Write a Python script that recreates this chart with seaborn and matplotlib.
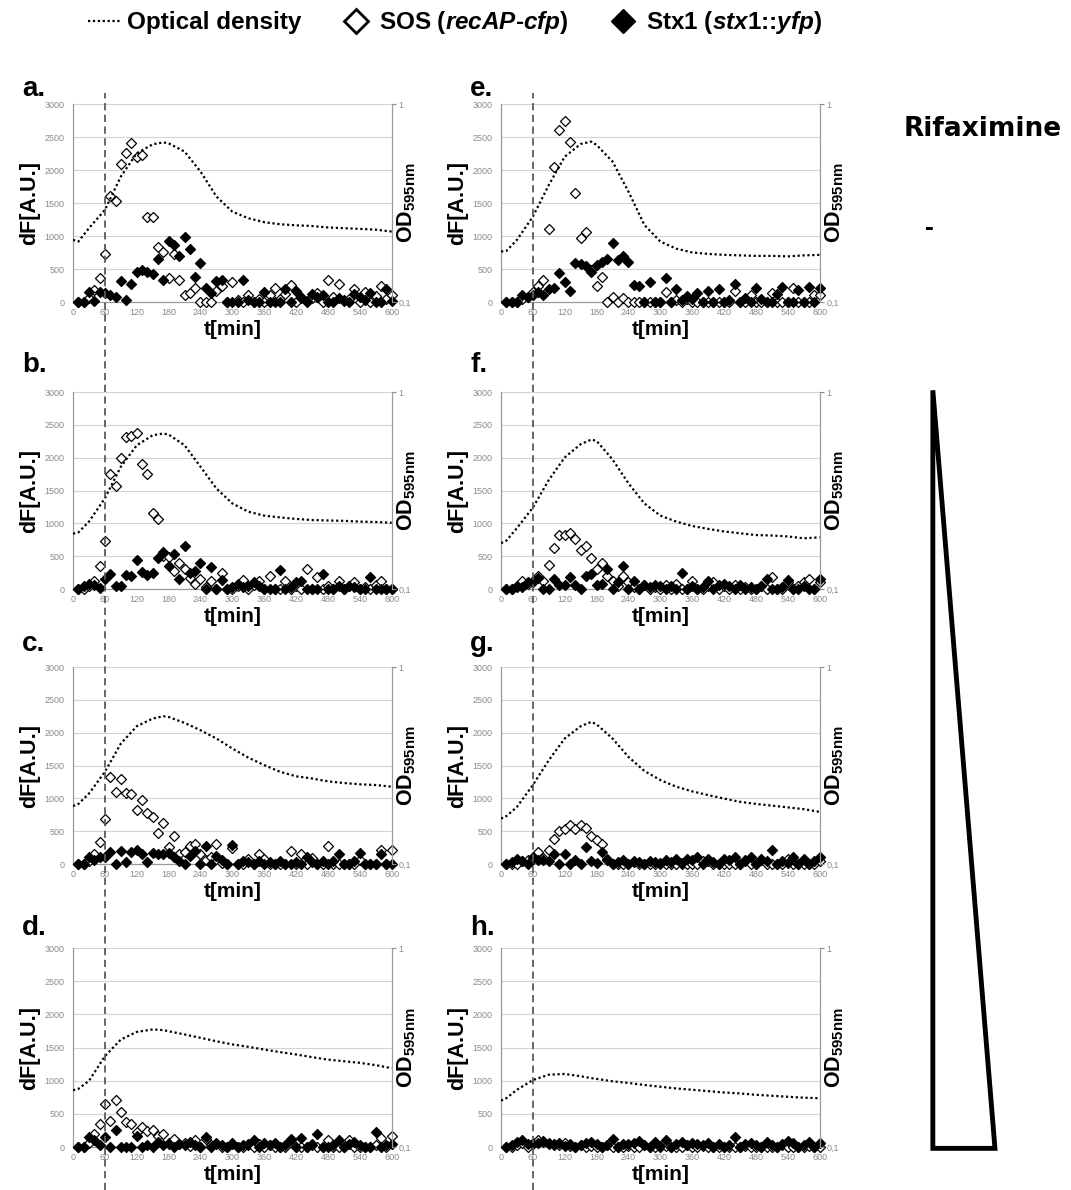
import matplotlib
matplotlib.use("Agg")
import matplotlib.pyplot as plt
from matplotlib.lines import Line2D
from matplotlib.patches import Polygon
from matplotlib.transforms import blended_transform_factory
import pandas as pd
import seaborn as sns

# sampling times of the fluorescence readings (min)
t = [10, 20, 30, 40, 50, 60, 70, 80, 90, 100, 110, 120, 130, 140, 150, 160, 170, 180, 190, 200,
     210, 220, 230, 240, 250, 260, 270, 280, 290, 300, 310, 320, 330, 340, 350, 360, 370, 380, 390, 400,
     410, 420, 430, 440, 450, 460, 470, 480, 490, 500, 510, 520, 530, 540, 550, 560, 570, 580, 590, 600]
# times at which the OD curve was read
od_t = [0, 10, 30, 60, 90, 120, 150, 170, 180, 210, 240, 270, 300, 330, 360, 390, 420, 450, 480, 510, 540, 570, 600]
induction_t = 60

# --- a ---
sos_a = [0, 0, 60, 180, 370, 720, 1610, 1530, 2090, 2260, 2410, 2200, 2220, 1290, 1290, 840, 760, 370, 720, 330,
         100, 130, 210, 0, 0, 0, 160, 250, 0, 300, 30, 0, 100, 0, 40, 0, 100, 210, 50, 120,
         260, 0, 80, 0, 60, 130, 0, 340, 80, 270, 20, 50, 190, 0, 150, 0, 90, 240, 50, 100]
stx_a = [0, 0, 150, 20, 150, 130, 100, 80, 320, 30, 280, 460, 490, 460, 420, 650, 340, 920, 860, 700,
         990, 800, 380, 590, 220, 140, 320, 330, 0, 0, 0, 340, 30, 0, 0, 150, 0, 0, 0, 200,
         0, 170, 60, 20, 120, 80, 100, 0, 0, 60, 30, 0, 120, 80, 30, 140, 0, 0, 190, 20]
od_a = [0.206, 0.202, 0.236, 0.292, 0.430, 0.564, 0.626, 0.640, 0.633, 0.575, 0.456, 0.341, 0.286, 0.265,
        0.253, 0.247, 0.244, 0.242, 0.238, 0.236, 0.234, 0.232, 0.227]

# --- b ---
sos_b = [0, 0, 50, 130, 355, 735, 1760, 1570, 2000, 2310, 2330, 2380, 1900, 1760, 1165, 1060, 500, 490, 270, 395,
         310, 170, 70, 150, 30, 130, 0, 240, 0, 0, 50, 140, 0, 60, 120, 0, 200, 0, 0, 130,
         0, 40, 0, 300, 0, 180, 0, 50, 0, 130, 0, 40, 110, 0, 30, 0, 60, 130, 0, 0]
stx_b = [0, 50, 80, 60, 20, 150, 230, 40, 40, 220, 200, 440, 260, 220, 250, 480, 570, 350, 540, 160,
         650, 250, 280, 400, 0, 330, 0, 140, 0, 30, 80, 30, 50, 100, 40, 0, 0, 0, 290, 0,
         30, 100, 120, 0, 0, 0, 230, 0, 0, 50, 0, 50, 30, 0, 0, 180, 0, 0, 0, 0]
od_b = [0.191, 0.194, 0.220, 0.289, 0.418, 0.537, 0.604, 0.616, 0.609, 0.537, 0.418, 0.324, 0.272, 0.247,
        0.236, 0.231, 0.227, 0.224, 0.223, 0.222, 0.220, 0.219, 0.217]

# --- c ---
sos_c = [0, 0, 50, 160, 340, 680, 1330, 1100, 1300, 1090, 1070, 830, 970, 780, 710, 480, 630, 260, 430, 150,
         190, 270, 310, 150, 60, 100, 300, 10, 0, 250, 0, 0, 80, 0, 150, 70, 0, 0, 0, 0,
         200, 0, 150, 0, 90, 0, 0, 270, 0, 0, 0, 0, 0, 60, 0, 0, 0, 210, 0, 210]
stx_c = [0, 0, 100, 60, 100, 100, 180, 0, 200, 30, 180, 220, 160, 30, 170, 150, 160, 170, 110, 50,
         0, 130, 200, 0, 270, 0, 120, 60, 0, 290, 0, 40, 30, 0, 50, 0, 30, 0, 40, 0,
         0, 30, 0, 100, 30, 0, 40, 0, 40, 150, 0, 0, 50, 170, 0, 0, 0, 160, 0, 0]
od_c = [0.197, 0.202, 0.228, 0.294, 0.409, 0.501, 0.548, 0.563, 0.558, 0.521, 0.478, 0.434, 0.386, 0.347,
        0.318, 0.294, 0.279, 0.272, 0.263, 0.258, 0.254, 0.252, 0.247]

# --- d ---
sos_d = [0, 0, 60, 190, 350, 655, 400, 715, 530, 380, 340, 230, 300, 240, 250, 160, 200, 60, 120, 40,
         60, 20, 100, 0, 120, 30, 60, 0, 0, 50, 0, 0, 30, 0, 40, 0, 30, 0, 0, 0,
         110, 0, 0, 0, 50, 0, 0, 100, 0, 0, 0, 100, 0, 0, 0, 0, 30, 130, 0, 170]
stx_d = [0, 0, 150, 100, 30, 150, 0, 260, 0, 0, 0, 160, 0, 30, 0, 80, 30, 50, 0, 50,
         30, 70, 30, 0, 150, 0, 50, 30, 0, 60, 0, 30, 50, 100, 0, 60, 30, 60, 0, 30,
         120, 0, 140, 0, 30, 190, 0, 0, 30, 100, 0, 50, 80, 30, 0, 0, 230, 0, 30, 50]
od_d = [0.193, 0.196, 0.215, 0.286, 0.347, 0.379, 0.390, 0.387, 0.382, 0.368, 0.354, 0.340, 0.328, 0.319,
        0.309, 0.300, 0.292, 0.283, 0.275, 0.270, 0.265, 0.258, 0.249]

# --- e ---
sos_e = [0, 0, 0, 50, 80, 150, 250, 340, 1100, 2050, 2610, 2740, 2430, 1650, 970, 1060, 480, 250, 380, 0,
         80, 0, 60, 0, 0, 0, 0, 0, 0, 0, 150, 0, 30, 0, 50, 0, 0, 0, 0, 0,
         0, 0, 0, 170, 0, 0, 100, 0, 0, 0, 130, 0, 0, 0, 210, 0, 0, 0, 110, 100]
stx_e = [0, 0, 0, 110, 80, 100, 150, 100, 200, 210, 440, 300, 160, 590, 580, 550, 450, 560, 600, 650,
         900, 640, 700, 600, 260, 250, 0, 300, 0, 0, 370, 0, 200, 30, 90, 40, 140, 0, 160, 0,
         190, 0, 30, 270, 0, 60, 0, 220, 50, 0, 0, 120, 230, 0, 0, 180, 0, 230, 0, 220]
od_e = [0.180, 0.181, 0.206, 0.270, 0.390, 0.542, 0.628, 0.646, 0.621, 0.512, 0.361, 0.245, 0.202, 0.186,
        0.178, 0.175, 0.173, 0.172, 0.171, 0.171, 0.170, 0.172, 0.173]

# --- f ---
sos_f = [0, 0, 30, 130, 70, 100, 200, 120, 370, 620, 830, 830, 860, 760, 600, 660, 480, 310, 400, 200,
         120, 50, 200, 100, 30, 0, 60, 0, 30, 0, 60, 0, 80, 0, 0, 130, 0, 0, 40, 100,
         0, 50, 0, 60, 0, 30, 0, 0, 50, 0, 180, 0, 0, 100, 0, 50, 110, 150, 0, 100]
stx_f = [0, 0, 40, 30, 100, 120, 170, 0, 0, 160, 60, 60, 190, 60, 0, 200, 230, 60, 70, 300,
         0, 100, 350, 0, 120, 0, 60, 30, 60, 40, 0, 40, 0, 240, 0, 50, 0, 30, 120, 0,
         60, 80, 40, 0, 60, 0, 30, 0, 40, 160, 0, 0, 30, 140, 0, 0, 40, 0, 0, 160]
od_f = [0.171, 0.176, 0.204, 0.259, 0.358, 0.466, 0.544, 0.574, 0.565, 0.455, 0.344, 0.272, 0.236, 0.220,
        0.209, 0.202, 0.196, 0.192, 0.188, 0.187, 0.185, 0.181, 0.183]

# --- g ---
sos_g = [0, 0, 0, 50, 60, 80, 190, 90, 210, 380, 500, 530, 600, 530, 600, 550, 430, 360, 300, 80,
         0, 0, 0, 0, 30, 0, 0, 0, 0, 20, 0, 0, 0, 0, 0, 0, 0, 50, 50, 0,
         0, 0, 0, 0, 0, 60, 0, 0, 60, 0, 0, 0, 0, 80, 0, 0, 0, 0, 0, 50]
stx_g = [0, 30, 70, 50, 0, 100, 60, 60, 40, 160, 0, 150, 0, 60, 0, 260, 40, 20, 180, 60,
         0, 30, 60, 0, 50, 30, 0, 50, 30, 0, 60, 30, 80, 20, 80, 60, 110, 0, 70, 30,
         0, 80, 60, 100, 0, 50, 100, 0, 70, 40, 210, 0, 40, 20, 100, 0, 70, 0, 40, 110]
od_g = [0.170, 0.175, 0.195, 0.252, 0.337, 0.434, 0.501, 0.527, 0.512, 0.434, 0.350, 0.297, 0.267, 0.247,
        0.234, 0.224, 0.215, 0.207, 0.202, 0.198, 0.194, 0.190, 0.184]

# --- h ---
sos_h = [0, 0, 30, 60, 0, 60, 100, 80, 60, 50, 30, 60, 20, 0, 30, 0, 20, 0, 0, 30,
         0, 0, 0, 20, 0, 0, 30, 0, 0, 0, 20, 0, 0, 0, 30, 0, 0, 20, 0, 0,
         0, 0, 0, 0, 0, 20, 0, 0, 0, 0, 0, 0, 30, 0, 0, 0, 0, 20, 0, 0]
stx_h = [0, 30, 80, 100, 50, 40, 60, 90, 40, 30, 60, 20, 40, 0, 30, 60, 80, 40, 0, 30,
         120, 0, 50, 40, 60, 90, 30, 0, 70, 20, 110, 0, 50, 80, 30, 60, 50, 30, 60, 0,
         40, 0, 30, 150, 0, 40, 60, 30, 0, 80, 30, 0, 40, 90, 60, 0, 30, 70, 0, 60]
od_h = [0.171, 0.176, 0.194, 0.217, 0.231, 0.233, 0.227, 0.222, 0.220, 0.214, 0.210, 0.205, 0.201, 0.197,
        0.194, 0.191, 0.188, 0.186, 0.183, 0.181, 0.179, 0.177, 0.176]

panels = [
    ("a.", sos_a, stx_a, od_a, 0, 0), ("b.", sos_b, stx_b, od_b, 1, 0),
    ("c.", sos_c, stx_c, od_c, 2, 0), ("d.", sos_d, stx_d, od_d, 3, 0),
    ("e.", sos_e, stx_e, od_e, 0, 1), ("f.", sos_f, stx_f, od_f, 1, 1),
    ("g.", sos_g, stx_g, od_g, 2, 1), ("h.", sos_h, stx_h, od_h, 3, 1),
]

sns.set_theme(style="white")
plt.rcParams["font.family"] = ["Liberation Sans", "DejaVu Sans"]
plt.rcParams["text.color"] = "black"
plt.rcParams["mathtext.fontset"] = "custom"
plt.rcParams["mathtext.rm"] = "Liberation Sans:bold"
plt.rcParams["mathtext.bf"] = "Liberation Sans:bold"
plt.rcParams["mathtext.it"] = "Liberation Sans:italic:bold"

fig = plt.figure(figsize=(10.71, 11.9), dpi=100)

col_left = [0.0682, 0.4678]
col_w = 0.2975
row_bottom = [0.7462, 0.5050, 0.2739, 0.0361]
row_h = [0.1664, 0.1655, 0.1655, 0.1672]
letter_y = [0.919, 0.687, 0.453, 0.214]
letter_x = [0.0205, 0.439]
grey = "#8a8a8a"
top_axes = {}

for letter, sos, stx, od, r, c in panels:
    ax = fig.add_axes([col_left[c], row_bottom[r], col_w, row_h[r]])
    ax.set_facecolor("none")
    if r == 0:
        top_axes[c] = ax
    df = pd.DataFrame({"t": t, "sos": sos, "stx": stx})
    sns.scatterplot(data=df, x="t", y="sos", marker="D", s=26, color="white",
                    edgecolor="black", linewidth=0.9, ax=ax, clip_on=False, zorder=3)
    sns.scatterplot(data=df, x="t", y="stx", marker="D", s=26, color="black",
                    edgecolor="black", linewidth=0.9, ax=ax, clip_on=False, zorder=4)
    ax.set_xlim(0, 600)
    ax.set_ylim(0, 3000)
    ax.set_xticks(range(0, 601, 60))
    ax.set_yticks(range(0, 3001, 500))
    ax.yaxis.grid(True, color="#d4d4d4", lw=0.8)
    ax.set_axisbelow(True)
    ax.tick_params(axis="y", labelsize=6.5, colors=grey, length=0, pad=6)
    ax.tick_params(axis="x", labelsize=6.5, colors=grey, length=0, pad=4.5)
    for sp in ["top", "right"]:
        ax.spines[sp].set_visible(False)
    for sp in ["left", "bottom"]:
        ax.spines[sp].set_color("#9a9a9a")
        ax.spines[sp].set_linewidth(0.9)
    ax.set_xlabel("")
    ax.set_ylabel("")
    ax.text(-0.136, 0.5, "dF[A.U.]", transform=ax.transAxes, rotation=90,
            ha="center", va="center", fontsize=15.5, weight="bold")
    ax.text(0.5, -0.14, "t[min]", transform=ax.transAxes,
            ha="center", va="center", fontsize=15, weight="bold")

    ax2 = ax.twinx()
    ax2.set_facecolor("none")
    sns.lineplot(x=od_t, y=od, ax=ax2, color="black", lw=1.6,
                 linestyle=(0, (1, 1.2)), zorder=5)
    ax2.set_xlim(0, 600)
    ax2.set_yscale("log")
    ax2.set_ylim(0.1, 1)
    ax2.set_yticks([0.1, 1])
    ax2.set_yticklabels(["0,1", "1"])
    ax2.yaxis.set_minor_locator(matplotlib.ticker.NullLocator())
    ax2.tick_params(axis="y", labelsize=6.5, colors=grey, length=3, width=0.8, pad=2)
    for sp in ["top", "left", "bottom"]:
        ax2.spines[sp].set_visible(False)
    ax2.spines["right"].set_color("#9a9a9a")
    ax2.spines["right"].set_linewidth(0.9)
    ax2.set_ylabel("")
    ax2.text(1.048, 0.5, r"OD$_{\mathbf{595nm}}$", transform=ax2.transAxes, rotation=90,
             ha="center", va="center", fontsize=15.5, weight="bold")

    fig.text(letter_x[c], letter_y[r], letter, fontsize=20, weight="bold",
             ha="left", va="baseline")

# dashed induction line running through each column of panels
for c, ax in top_axes.items():
    tr = blended_transform_factory(ax.transData, fig.transFigure)
    fig.add_artist(Line2D([induction_t, induction_t], [0.0, 0.922], transform=tr,
                          color="#5a5a5a", ls=(0, (4, 2.5)), lw=1.3, zorder=10))

handles = [
    Line2D([], [], color="black", lw=1.6, linestyle=(0, (1, 1.2))),
    Line2D([], [], ls="", marker="D", ms=12, mfc="white", mec="black", mew=2),
    Line2D([], [], ls="", marker="D", ms=12, mfc="black", mec="black"),
]
labels = ["Optical density", r"SOS ($\mathit{recAP}$-$\mathit{cfp}$)",
          r"Stx1 ($\mathit{stx1}$::$\mathit{yfp}$)"]
fig.legend(handles, labels, loc="center", bbox_to_anchor=(0.425, 0.981), ncol=3,
           frameon=False, prop={"weight": "bold", "size": 17.5}, handlelength=1.3,
           handletextpad=0.3, columnspacing=1.6)

fig.text(0.918, 0.892, "Rifaximine", ha="center", va="center", fontsize=19,
         weight="bold", family="DejaVu Sans")
fig.text(0.868, 0.808, "-", ha="center", va="center", fontsize=19, weight="bold")
fig.add_artist(Polygon([[0.871, 0.672], [0.871, 0.035], [0.929, 0.035]], closed=True,
                       fill=False, lw=3.5, ec="black", joinstyle="miter",
                       transform=fig.transFigure))

fig.savefig("out.png", dpi=100)
